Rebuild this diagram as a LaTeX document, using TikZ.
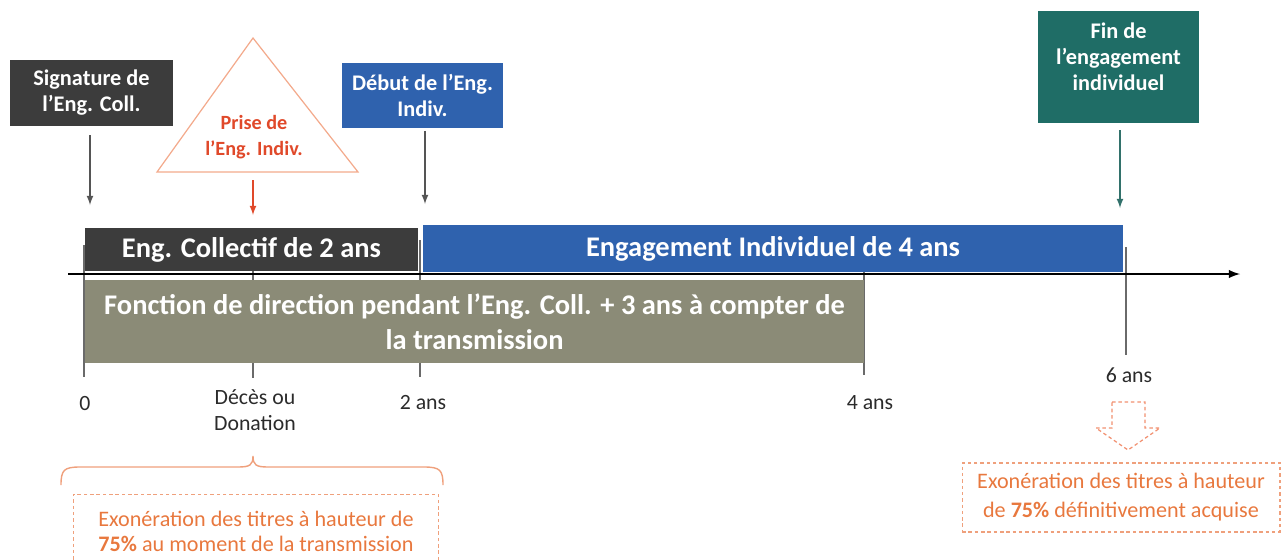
\documentclass[tikz,border=0pt]{standalone}
\usepackage{fontspec}
\setmainfont{Carlito}
\usepackage{xcolor}
\usepackage{tikz}
\definecolor{collgray}{HTML}{3C3C3C}
\definecolor{indivblue}{HTML}{2F62AE}
\definecolor{finteal}{HTML}{1F6D66}
\definecolor{foncolive}{HTML}{8B8B77}
\definecolor{prisered}{HTML}{E0492A}
\definecolor{trisalmon}{HTML}{F3AA8C}
\definecolor{exoorange}{HTML}{E8783E}
\definecolor{dashorange}{HTML}{EFA07C}
\definecolor{tickgray}{HTML}{6A6A6A}
\definecolor{pingray}{HTML}{555555}
\definecolor{labelgray}{HTML}{2B2B2B}

\begin{document}
\begin{tikzpicture}[x=0.02cm, y=-0.02cm,
	tag/.style={inner sep=0pt, text=white, align=center, font=\bfseries\fontsize{12.7}{14.8}\selectfont},
	bar/.style={inner sep=0pt, text=white, align=center, font=\bfseries\fontsize{16.2}{18}\selectfont},
	tick/.style={draw=tickgray, line width=1.1pt},
	pin/.style={draw=pingray, line width=0.8pt, -latex},
	yearlbl/.style={text=labelgray, align=center, font=\fontsize{12.4}{14.5}\selectfont},
	exobox/.style={draw=dashorange, dash pattern=on 2pt off 1.6pt, line width=0.6pt, text=exoorange, align=center, inner sep=0pt}]
	\useasboundingbox (0,0) rectangle (1286,559);
	\clip (0,0) rectangle (1286,559);

	\draw[tick] (84,245) -- (84,377);
	\draw[tick] (253,265) -- (253,378);
	\draw[tick] (420,240) -- (420,377);
	\draw[tick] (864,270) -- (864,375);
	\draw[tick] (1126,247) -- (1126,355);

	\node[tag, fill=collgray, minimum width=3.26cm, minimum height=1.32cm] (sig) at (91.5,93) {Signature de\\l’Eng. Coll.};
	\node[tag, fill=indivblue, minimum width=3.22cm, minimum height=1.3cm] (deb) at (422.5,95) {Début de l’Eng.\\Indiv.};
	\node[tag, fill=finteal, minimum width=3.22cm, minimum height=2.24cm] (fin) at (1118.5,67) {Fin de\\l’engagement\\individuel\\[-3pt]\mbox{}};

	\coordinate (apex) at (253,38);
	\coordinate (triL) at (157,172);
	\coordinate (triR) at (358,172);
	\coordinate (triB) at (253,172);
	\draw[draw=trisalmon, line width=0.7pt] (apex) -- (triR) -- (triL) -- cycle;
	\node[inner sep=0pt, text=prisered, align=center, font=\bfseries\fontsize{11.5}{14.5}\selectfont] (prise) at (254,137) {Prise de\\l’Eng. Indiv.};

	\node[bar, fill=collgray, minimum width=6.66cm, minimum height=0.86cm] (coll) at (251.5,249.5) {Eng. Collectif de 2 ans};
	\node[bar, fill=indivblue, minimum width=14cm, minimum height=0.94cm] (indiv) at (773,248.5) {Engagement Individuel de 4 ans};
	\node[bar, fill=foncolive, minimum width=15.58cm, minimum height=1.66cm, font=\bfseries\fontsize{16.2}{20}\selectfont] (fonc) at (474.5,321.5) {Fonction de direction pendant l’Eng. Coll. + 3 ans à compter de\\la transmission};

	\coordinate (sigend) at (90,205);
	\coordinate (priseend) at (253,215);
	\coordinate (debend) at (425,204);
	\coordinate (finend) at (1120,208);
	\draw[pin] ([yshift=-0.18cm]sig.south -| sigend) -- (sigend);
	\draw[pin, draw=prisered] ([yshift=-0.16cm]triB) -- (priseend);
	\draw[pin] ([yshift=-0.06cm]deb.south -| debend) -- (debend);
	\draw[pin, draw=finteal!80!gray] ([yshift=-0.14cm]fin.south -| finend) -- (finend);

	\coordinate (axstart) at (68,274);
	\coordinate (axend) at (1240,274);
	\draw[line width=1.2pt, -latex] (axstart) -- (axend);

	\node[yearlbl] (y0) at (85,403) {0};
	\node[yearlbl] (dd) at (255,410) {Décès ou\\Donation};
	\node[yearlbl] (y2) at (423,403) {2 ans};
	\node[yearlbl] (y4) at (870,403) {4 ans};
	\node[yearlbl] (y6) at (1129,375) {6 ans};

	\coordinate (braceL) at (61,485);
	\coordinate (braceM) at (253,456);
	\coordinate (braceR) at (443,485);
	\draw[draw=dashorange, line width=0.8pt] (braceL) .. controls (61,470) and (64,467) .. (80,467) -- (238,467) .. controls (250,467) and (253,465) .. (braceM) .. controls (253,465) and (256,467) .. (268,467) -- (424,467) .. controls (440,467) and (443,470) .. (braceR);

	\node[exobox, minimum width=7.32cm, minimum height=1.46cm, font=\fontsize{12.6}{14.2}\selectfont] (exoL) at (256,531) {Exonération des titres à hauteur de\\\textbf{75\%} au moment de la transmission};
	\node[exobox, minimum width=6.36cm, minimum height=1.38cm, font=\fontsize{12.6}{16.5}\selectfont] (exoR) at (1121,497.5) {Exonération des titres à hauteur\\de \textbf{75\%} définitivement acquise};

	\draw[draw=dashorange!90!red, dash pattern=on 2pt off 1.6pt, line width=0.7pt] (1112,402) -- (1145,402) -- (1145,428) -- (1160,428) -- (1128,450) -- (1096,428) -- (1112,428) -- cycle;
\end{tikzpicture}
\end{document}
